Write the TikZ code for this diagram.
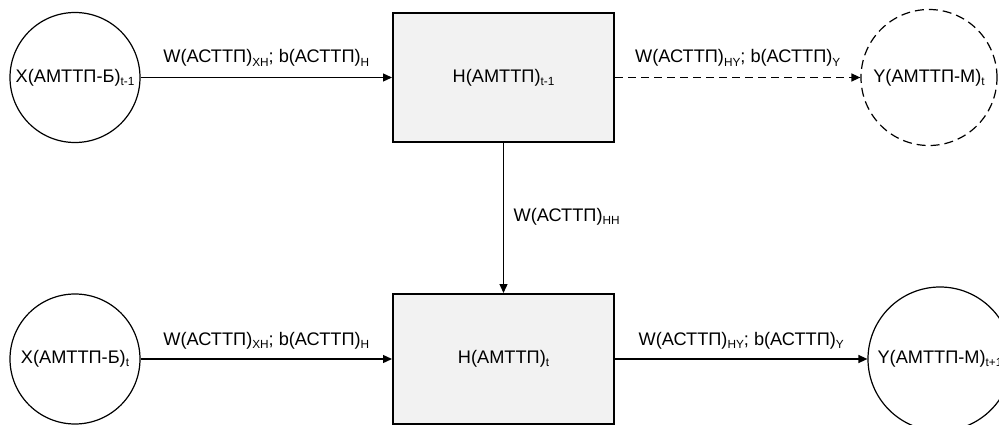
\documentclass[tikz,border=0pt]{standalone}
\usepackage{fontspec}
\setmainfont{Liberation Sans}
\usetikzlibrary{arrows.meta,calc}
\definecolor{boxgray}{HTML}{F2F2F2}
\newcommand\sbs[1]{\raisebox{-3.2pt}{\fontsize{11.8}{12}\selectfont #1}}
\begin{document}
\begin{tikzpicture}[x=1pt,y=-1pt,line width=1.3pt,
  font=\fontsize{18.2}{21}\selectfont,
  circ/.style={circle,draw,line width=1.2pt,minimum size=130pt,inner sep=0pt},
  blk/.style={rectangle,draw,line width=2pt,fill=boxgray,minimum width=221pt,minimum height=129pt,inner sep=0pt},
  arr/.style={-{Triangle[length=9pt,width=8pt]}},
  dsh/.style={dash pattern=on 8pt off 5pt},
  cdsh/.style={dash pattern=on 9pt off 5pt},
  lbl/.style={inner sep=0pt,anchor=base}]
\path[use as bounding box,clip] (0,0) rectangle (999,425);
\fill[white] (0,0) rectangle (999,425);
% nodes
\node[circ] (x1) at (75,77.5) {Х(АМТТП-Б)\sbs{t-1}};
\node[blk] (h1) at (503.5,77.5) {Н(АМТТП)\sbs{t-1}};
\node[circ,cdsh,minimum size=136pt] (y1) at (929,77.5) {Y(АМТТП-М)\sbs{t}};
\node[circ] (x2) at (75,359) {Х(АМТТП-Б)\sbs{t}};
\node[blk,minimum height=130pt] (h2) at (503.5,359) {Н(АМТТП)\sbs{t}};
\node[circ,minimum size=144pt] (y2) at (940,359) {Y(АМТТП-М)\sbs{t+1}};
% connectors
\draw[arr] (x1) -- (h1) node[lbl,midway,yshift=14.5pt] (e1) {W(АСТТП)\sbs{XH}; b(АСТТП)\sbs{H}};
\draw[arr,dsh] (h1) -- (y1) node[lbl,midway,yshift=14.5pt] (e2) {W(АСТТП)\sbs{HY}; b(АСТТП)\sbs{Y}};
\draw[arr] (h1) -- (h2);
\node[lbl,anchor=base west] (e3) at (513,221.5) {W(АСТТП)\sbs{HH}};
\draw[arr] (x2) -- (h2) node[lbl,midway,yshift=13.5pt] (e4) {W(АСТТП)\sbs{XH}; b(АСТТП)\sbs{H}};
\draw[arr] (h2) -- (y2) node[lbl,midway,yshift=13.5pt] (e5) {W(АСТТП)\sbs{HY}; b(АСТТП)\sbs{Y}};
\end{tikzpicture}
\end{document}
